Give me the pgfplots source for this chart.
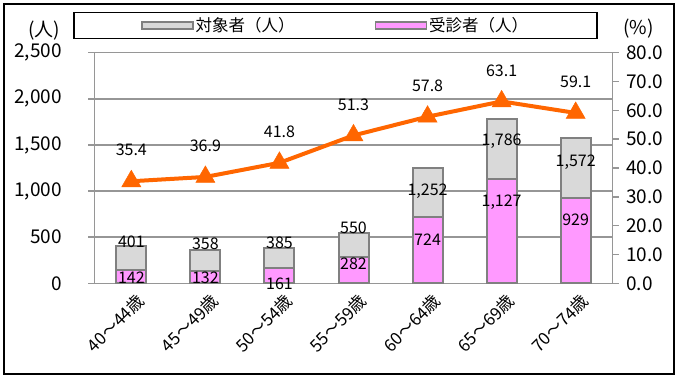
\documentclass[border=0pt]{standalone}
\usepackage{fontspec}
\setmainfont{Noto Sans CJK JP}
\usepackage{pgfplots}
\pgfplotsset{compat=1.18}

\definecolor{bargray}{RGB}{217,217,217}
\definecolor{barpink}{RGB}{255,153,255}
\definecolor{edgegray}{RGB}{128,128,128}
\definecolor{gridgray}{RGB}{150,150,150}
\definecolor{lineorange}{RGB}{255,102,0}

\newcommand{\ticksize}{\fontsize{19}{20}\selectfont}
\newcommand{\labsize}{\fontsize{16}{17}\selectfont}

\begin{document}
\begin{tikzpicture}
\useasboundingbox (-94.3pt,-93.7pt) rectangle (582.7pt,283.3pt);
\draw[line width=2pt] (-90.3pt,-90.7pt) rectangle (579.7pt,279.3pt);

% left axis: bars
\begin{axis}[
  scale only axis,
  width=518.4pt, height=230.6pt,
  at={(0pt,0pt)}, anchor=south west,
  clip=false,
  xmin=-0.5, xmax=6.5,
  ymin=0, ymax=2500,
  ytick={0,500,...,2500},
  xtick={0,...,6},
  xticklabels={40～44歳,45～49歳,50～54歳,55～59歳,60～64歳,65～69歳,70～74歳},
  x tick label style={rotate=45, anchor=north east, font=\fontsize{17}{18}\selectfont, inner sep=1pt, xshift=2pt, yshift=-4pt},
  xtick style={draw=none},
  minor xtick={-0.5,0.5,...,6.5},
  minor x tick style={gridgray, line width=1.5pt},
  tick align=outside,
  major tick length=6pt, minor tick length=6pt,
  ytick pos=left, xtick pos=bottom,
  ytick style={gridgray, line width=1.5pt},
  ymajorgrids,
  grid style={gridgray, line width=1.5pt},
  axis line style={gridgray, line width=1.5pt},
  y tick label style={font=\ticksize, /pgf/number format/1000 sep={,}},
  /pgf/number format/assume math mode=true,
  yticklabel shift=23pt,
  legend columns=2,
  legend style={
    at={(0.4653,1.118)}, anchor=center,
    draw=black, line width=1.5pt,
    inner xsep=67pt, inner ysep=3pt,
    font=\fontsize{16.5}{17}\selectfont,
    /tikz/every even column/.append style={column sep=78pt}
  },
  legend image code/.code={
    \draw[#1, line width=1.5pt] (0pt,-3.5pt) rectangle (51pt,3.5pt);
  },
]
\addplot[ybar, bar width=30pt, bar shift=0pt, fill=bargray, draw=edgegray, line width=2pt]
  coordinates {(0,401) (1,358) (2,385) (3,550) (4,1252) (5,1786) (6,1572)};
\addplot[ybar, bar width=30pt, bar shift=0pt, fill=barpink, draw=edgegray, line width=2pt]
  coordinates {(0,142) (1,132) (2,161) (3,282) (4,724) (5,1127) (6,929)};
\legend{対象者（人）, 受診者（人）}

% data labels
\begin{scope}[every node/.style={font=\labsize, inner sep=0pt}]
\node at (axis cs:0,451) {401};
\node at (axis cs:1,423) {358};
\node at (axis cs:2,440) {385};
\node at (axis cs:3,607) {550};
\node at (axis cs:4,1001) {1,252};
\node at (axis cs:5,1535) {1,786};
\node at (axis cs:6,1312) {1,572};
\node at (axis cs:0,61) {142};
\node at (axis cs:1,61) {132};
\node at (axis cs:2,0) {161};
\node at (axis cs:3,209) {282};
\node at (axis cs:4,469) {724};
\node at (axis cs:5,874) {1,127};
\node at (axis cs:6,686) {929};
\end{scope}
\node[font=\ticksize] at (rel axis cs:-0.097,1.094) {(人)};
\end{axis}

% right axis: line
\begin{axis}[
  scale only axis,
  width=518.4pt, height=230.6pt,
  at={(0pt,0pt)}, anchor=south west,
  clip=false,
  xmin=-0.5, xmax=6.5,
  ymin=0, ymax=80,
  ytick={0,10,...,80},
  axis y line*=right,
  axis x line=none,
  tick align=outside,
  major tick length=6pt,
  ytick style={gridgray, line width=1.5pt},
  axis line style={gridgray, line width=1.5pt},
  y tick label style={font=\ticksize, /pgf/number format/.cd, fixed, fixed zerofill, precision=1},
  /pgf/number format/assume math mode=true,
  yticklabel shift=4pt,
  nodes near coords={\pgfmathprintnumber[fixed,fixed zerofill,precision=1]{\pgfplotspointmeta}},
  every node near coord/.append style={font=\labsize, anchor=center, yshift=31pt, inner sep=0pt, text=black},
]
\addplot[lineorange, line width=4pt, mark=triangle*, mark size=11pt,
  mark options={solid, line width=0.5pt, fill=lineorange}]
  coordinates {(0,35.4) (1,36.9) (2,41.8) (3,51.3) (4,57.8) (5,63.1) (6,59.1)};
\node[font=\ticksize] at (rel axis cs:1.05,1.103) {(\%)};
\end{axis}
\end{tikzpicture}
\end{document}
